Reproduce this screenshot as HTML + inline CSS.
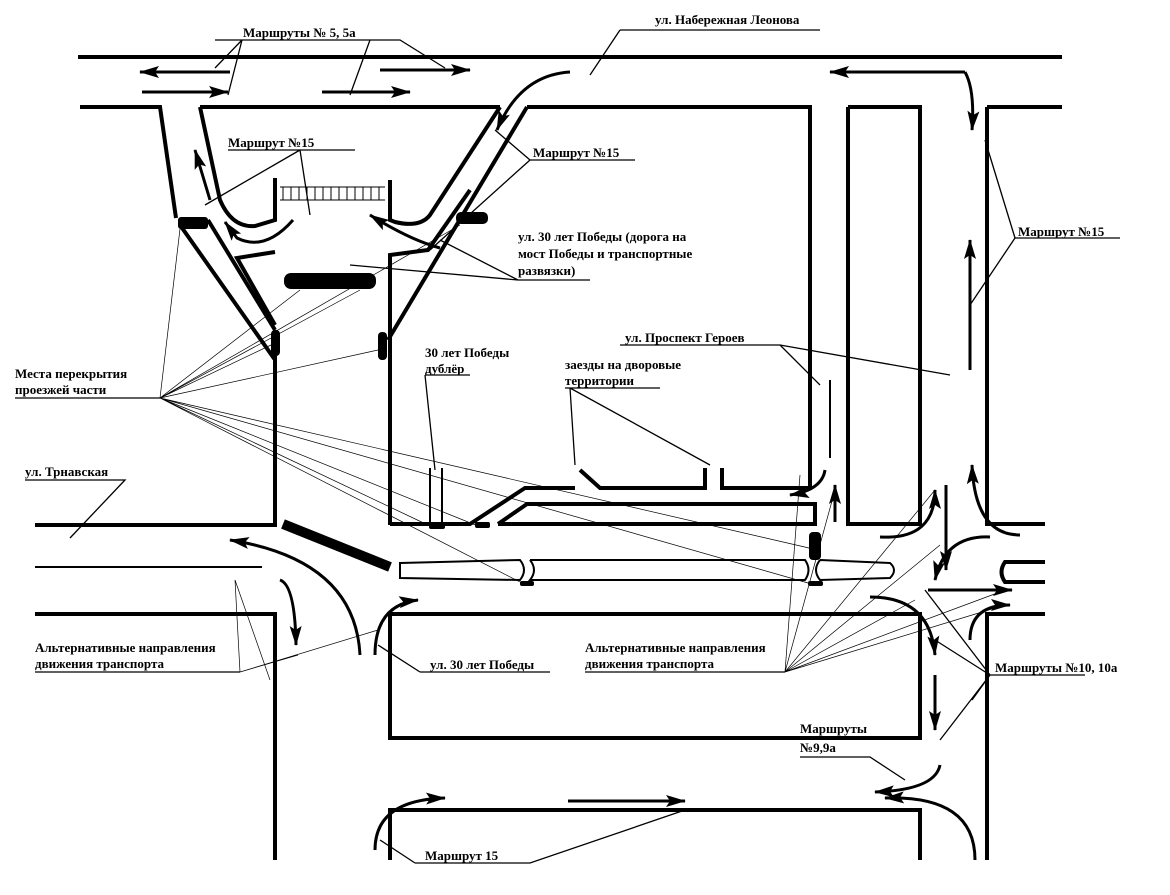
<!DOCTYPE html>
<html><head><meta charset="utf-8"><style>
html,body{margin:0;padding:0;background:#fff}
svg{display:block}
text{font-family:"Liberation Serif",serif;font-weight:bold;font-size:13px;fill:#000}
</style></head><body>
<svg width="1170" height="895" viewBox="0 0 1170 895">
<defs>
<marker id="b" markerWidth="20" markerHeight="12" refX="19" refY="6" orient="auto" markerUnits="userSpaceOnUse" viewBox="0 0 20 12"><path d="M0,0 L20,6 L0,12 L4,6 z" fill="#000"/></marker>
</defs>
<g fill="none" stroke="#000" stroke-width="4" stroke-linejoin="miter">
<line x1="78" y1="57" x2="1062" y2="57"/>
<polyline points="80,107 160,107 176,218"/>
<polyline points="180,225 273,357 275,355 275,525 35,525"/>
<path d="M200,107 L220,200 Q232,228 255,226 L275,220 L275,178"/>
<path d="M208,220 L275,330"/>
<path d="M275,252 L237,258 L275,325"/>
<polyline points="200,107 500,107"/>
<path d="M500,107 L430,215 Q420,228 395,222 L390,220 L390,180"/>
<path d="M527,107 L388,340"/>
<path d="M390,525 L390,255 L428,250 L470,190"/>
<polyline points="527,107 810,107 810,488 722,488 722,468"/>
<polyline points="705,468 705,488 600,488 580,470"/>
<polyline points="575,488 525,488 470,524 390,524"/>
<polyline points="498,524 527,504 815,504 815,524 498,524"/>
<polyline points="848,107 920,107 920,524 848,524 848,107"/>
<polyline points="987,107 1062,107"/>
<polyline points="987,107 987,524 1045,524"/>
<polyline points="35,614 275,614 275,860"/>
<polyline points="390,614 920,614 920,738 390,738 390,614"/>
<polyline points="390,860 390,810 920,810 920,860"/>
<polyline points="1045,614 987,614 987,860"/>
<path d="M1045,562 L1005,562 Q998,572 1005,582 L1045,582"/>
</g>
<g fill="none" stroke="#000" stroke-width="2">
<line x1="35" y1="567" x2="262" y2="567"/>
<path d="M400,563 L520,560 Q528,570 520,580 L400,578 Z"/>
<path d="M530,560 L805,560 Q812,570 805,580 L530,580 Q538,570 530,560"/>
<path d="M820,560 L890,563 Q898,570 890,578 L820,580 Q812,570 820,560"/>
<line x1="430" y1="468" x2="430" y2="524"/>
<line x1="442" y1="468" x2="442" y2="524"/>
<line x1="830" y1="380" x2="830" y2="458"/>
</g>
<g stroke="#000" stroke-width="1">
<line x1="280" y1="187" x2="385" y2="187"/>
<line x1="280" y1="200" x2="385" y2="200"/>
<path d="M283,187v13M291,187v13M299,187v13M307,187v13M315,187v13M323,187v13M331,187v13M339,187v13M347,187v13M355,187v13M363,187v13M371,187v13M379,187v13"/>
</g>
<g fill="#000">
<rect x="178" y="217" width="30" height="12" rx="3"/>
<rect x="456" y="212" width="32" height="12" rx="5"/>
<rect x="284" y="273" width="92" height="16" rx="7"/>
<rect x="271" y="330" width="9" height="26" rx="4"/>
<rect x="378" y="332" width="9" height="28" rx="4"/>
<rect x="429" y="524" width="16" height="5" rx="2"/>
<rect x="475" y="522" width="15" height="6" rx="2"/>
<rect x="520" y="581" width="14" height="5" rx="2"/>
<rect x="809" y="532" width="12" height="28" rx="4"/>
<rect x="808" y="581" width="15" height="5" rx="2"/>
</g>
<line x1="283" y1="524" x2="390" y2="567" stroke="#000" stroke-width="10"/>
<g fill="none" stroke="#000" stroke-width="3" marker-end="url(#b)">
<line x1="230" y1="72" x2="140" y2="72"/>
<line x1="142" y1="92" x2="228" y2="92"/>
<line x1="380" y1="70" x2="470" y2="70"/>
<line x1="322" y1="92" x2="410" y2="92"/>
<line x1="965" y1="72" x2="830" y2="72"/>
<path d="M570,72 Q520,75 497,130"/>
<path d="M965,72 Q975,90 972,130"/>
<line x1="970" y1="370" x2="970" y2="240"/>
<line x1="210" y1="200" x2="195" y2="150"/>
<path d="M293,220 Q265,252 237,238 L225,222"/>
<path d="M440,248 Q410,240 370,215"/>
<path d="M825,470 Q822,490 790,495"/>
<path d="M835,522 Q835,515 835,485"/>
<path d="M880,537 Q935,540 935,490"/>
<line x1="946" y1="485" x2="946" y2="570"/>
<path d="M1020,535 Q975,535 972,465"/>
<path d="M990,537 Q945,535 935,580"/>
<line x1="928" y1="590" x2="1012" y2="590"/>
<path d="M970,640 Q970,605 1010,605"/>
<path d="M870,597 Q930,597 935,655"/>
<line x1="935" y1="675" x2="935" y2="730"/>
<path d="M940,765 Q935,790 875,792"/>
<path d="M975,860 Q975,795 885,798"/>
<path d="M360,655 Q355,560 230,540"/>
<path d="M280,580 Q295,585 296,645"/>
<path d="M375,655 Q375,605 418,600"/>
<path d="M375,850 Q375,800 445,798"/>
<line x1="568" y1="801" x2="685" y2="801"/>
</g>
<g stroke="#000" stroke-width="0.7" fill="none">
<path d="M160,398 L180,229 M160,398 L460,225 M160,398 L300,290 M160,398 L360,290 M160,398 L271,345 M160,398 L378,350 M160,398 L430,526 M160,398 L478,526 M160,398 L522,583 M160,398 L809,548 M160,398 L808,583"/>
<path d="M235,580 L270,680 M235,580 L240,672 M298,655 L240,672 M378,630 L240,672"/>
<path d="M785,672 L800,475 M785,672 L835,490 M785,672 L935,490 M785,672 L940,545 M785,672 L915,600 M785,672 L1005,605 M785,672 L1000,592"/>
</g>
<g stroke="#000" stroke-width="1.3" fill="none">
<path d="M215,40 L242,40 L215,68 M242,40 L228,95 M242,40 L370,40 L400,40 L445,68 M370,40 L350,95"/>
<line x1="620" y1="30" x2="820" y2="30"/><line x1="620" y1="30" x2="590" y2="75"/>
<path d="M228,150 L355,150 M300,150 L205,205 M300,150 L310,215"/>
<path d="M530,160 L635,160 M530,160 L495,130 M530,160 L430,250"/>
<path d="M1015,238 L1120,238 M1015,238 L985,140 M1015,238 L970,305"/>
<path d="M518,280 L590,280 M518,280 L350,265 M518,280 L440,240"/>
<path d="M425,375 L470,375 M425,375 L435,470"/>
<path d="M565,388 L660,388 M570,388 L575,465 M570,388 L710,465"/>
<path d="M620,345 L780,345 L950,375 M780,345 L820,385"/>
<path d="M25,480 L125,480 L70,538"/>
<path d="M15,398 L160,398"/>
<path d="M35,672 L240,672"/>
<path d="M420,672 L550,672 M420,672 L378,645"/>
<path d="M585,672 L785,672"/>
<path d="M990,675 L1085,675 M990,675 L925,590 M990,675 L935,640 M990,675 L940,740 M990,675 L972,700"/>
<path d="M800,757 L870,757 L905,780"/>
<path d="M415,863 L530,863 L685,810 M415,863 L380,840"/>
</g>
<text x="243" y="37">Маршруты № 5, 5а</text>
<text x="655" y="24">ул. Набережная Леонова</text>
<text x="228" y="147">Маршрут №15</text>
<text x="533" y="157">Маршрут №15</text>
<text x="1018" y="236">Маршрут №15</text>
<text x="518" y="241">ул. 30 лет Победы (дорога на</text>
<text x="518" y="258">мост Победы и транспортные</text>
<text x="518" y="275">развязки)</text>
<text x="625" y="342">ул. Проспект Героев</text>
<text x="425" y="357">30 лет Победы</text>
<text x="425" y="373">дублёр</text>
<text x="565" y="369">заезды на дворовые</text>
<text x="565" y="385">территории</text>
<text x="15" y="378">Места перекрытия</text>
<text x="15" y="394">проезжей части</text>
<text x="25" y="476">ул. Трнавская</text>
<text x="35" y="652">Альтернативные направления</text>
<text x="35" y="668">движения транспорта</text>
<text x="585" y="652">Альтернативные направления</text>
<text x="585" y="668">движения транспорта</text>
<text x="430" y="669">ул. 30 лет Победы</text>
<text x="995" y="672">Маршруты №10, 10а</text>
<text x="800" y="733">Маршруты</text>
<text x="800" y="752">№9,9а</text>
<text x="425" y="860">Маршрут 15</text>
</svg>
</body></html>
